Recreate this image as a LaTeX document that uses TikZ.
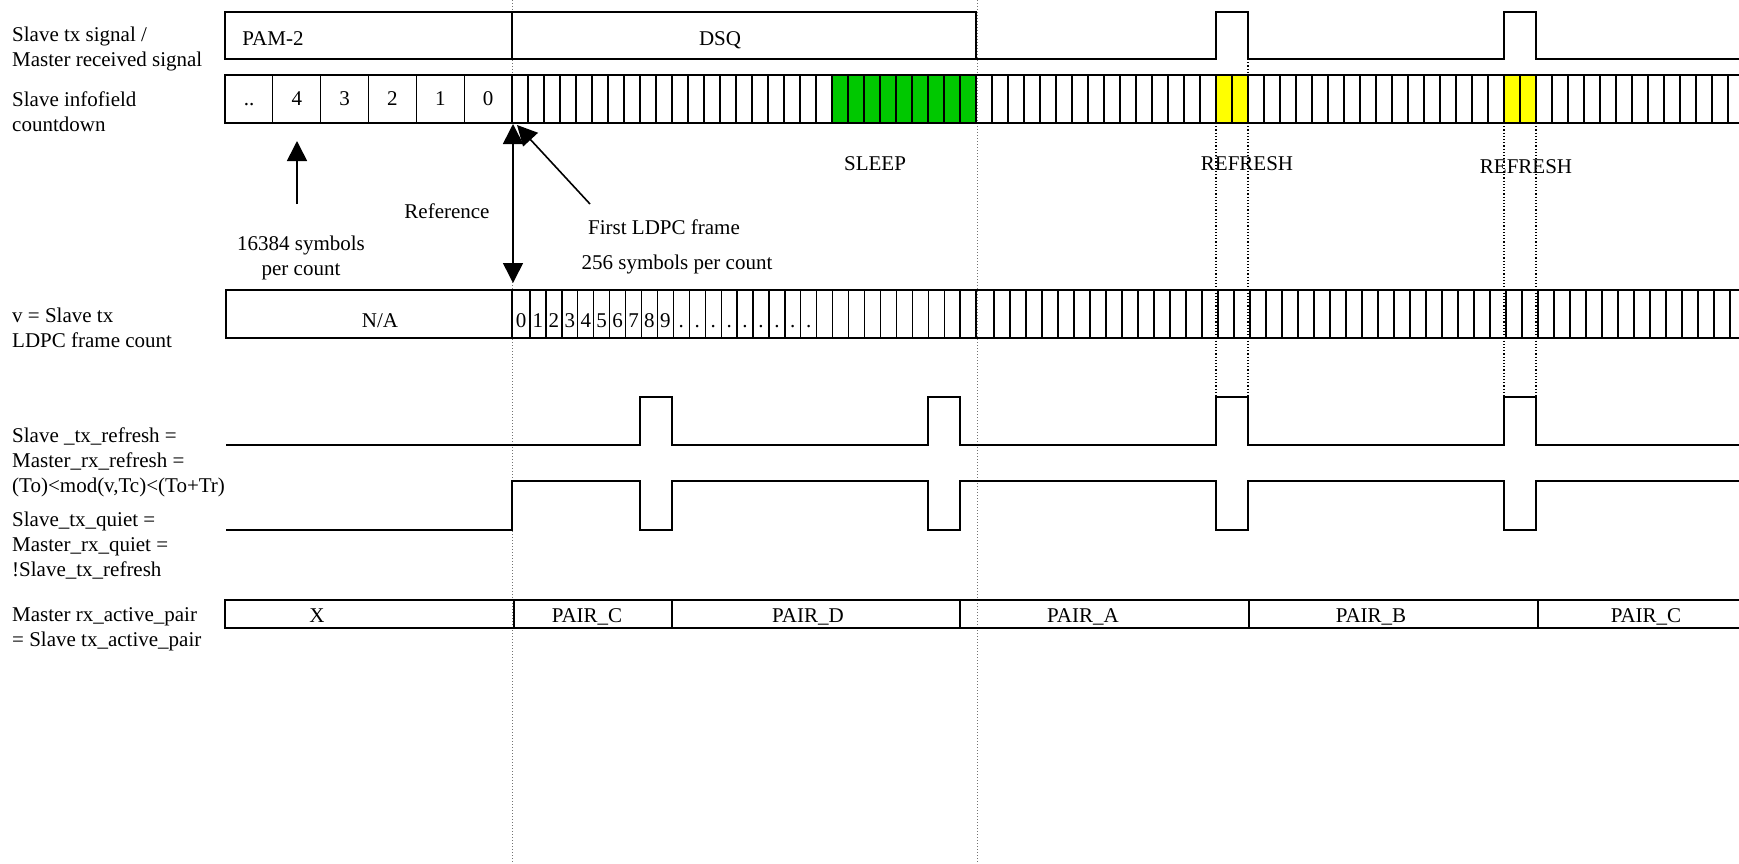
\documentclass[tikz,border=0pt]{standalone}
\usepackage{fontspec}
\setmainfont{Liberation Serif}
\usetikzlibrary{arrows.meta}

\definecolor{sleepgreen}{RGB}{0,200,0}
\definecolor{refreshyellow}{RGB}{255,255,0}

\begin{document}
\begin{tikzpicture}[x=1pt, y=-1pt,
    every node/.style={font=\fontsize{21}{25}\selectfont, inner sep=0pt},
    sidelbl/.style={align=left, anchor=west},
    txt/.style={anchor=base},
    frame/.style={line width=1.8pt},
    cell/.style={line width=1.3pt},
    wave/.style={line width=1.8pt},
    guide/.style={black!55, dotted, line width=1pt},
    tick/.style={black, dotted, line width=1.2pt},
    bigarrow/.style={line width=1.6pt, -{Triangle[length=20pt, width=20pt]}}]
  \useasboundingbox (0,0) rectangle (1739,864);
  \clip (0,0) rectangle (1739,864);
  % reference guides
  \draw[guide] (512,0) -- (512,864);
  \draw[guide] (977,0) -- (977,864);

  % row labels
  \node[sidelbl] (lsig) at (12,49) {Slave tx signal /\\Master received signal};
  \node[sidelbl] (lcnt) at (12,112) {Slave infofield\\countdown};
  \node[sidelbl] (lldpc) at (12,328) {v = Slave tx\\LDPC frame count};
  \node[sidelbl] (lref) at (12,462) {Slave \_tx\_refresh =\\Master\_rx\_refresh =\\(To)<mod(v,Tc)<(To+Tr)};
  \node[sidelbl] (lqui) at (12,546) {Slave\_tx\_quiet =\\Master\_rx\_quiet =\\!Slave\_tx\_refresh};
  \node[sidelbl] (lpair) at (12,629) {Master rx\_active\_pair\\= Slave tx\_active\_pair};

  % tx signal
  \draw[frame] (225,12) rectangle (512,59);
  \draw[frame] (512,12) rectangle (976,59);
  \draw[wave] (976,59) -- (1216,59) -- (1216,12) -- (1248,12) -- (1248,59)
    -- (1504,59) -- (1504,12) -- (1536,12) -- (1536,59) -- (1745,59);
  \node[txt] (pam) at (273,46) {PAM-2};
  \node[txt] (dsq) at (720,46) {DSQ};

  % infofield countdown
  \fill[sleepgreen] (832,75) rectangle (976,123);
  \fill[refreshyellow] (1216,75) rectangle (1248,123);
  \fill[refreshyellow] (1504,75) rectangle (1536,123);
  \foreach \i/\c in {0/{..},1/4,2/3,3/2,4/1,5/0} {
    \draw[cell] ({225+\i*47.83},75) -- ++(0,48);
    \node[txt] (cd\i) at ({249+\i*47.83},106) {\c};
  }
  \foreach \i in {0,...,76}
    \draw[cell] ({512+\i*16},75) -- ++(0,48);
  \draw[frame] (1745,75) -- (225,75) -- (225,123) -- (1745,123);

  % LDPC frame count
  \node[txt] (na) at (380,327) {N/A};
  \draw[cell] (512,290) -- ++(0,48);
  \node[txt] (fc0) at (521,327) {0};
  \foreach \i in {0,...,28}
    \draw[cell] ({530+\i*15.93},290) -- ++(0,48);
  \foreach \i in {0,...,47}
    \draw[cell] ({994+\i*16},290) -- ++(0,48);
  \foreach \k in {1,...,9}
    \node[txt] (fc\k) at ({530+(\k-0.5)*15.93},327) {\k};
  \foreach \k in {10,...,18}
    \node[txt] (fd\k) at ({530+(\k-0.5)*15.93},327) {.};
  \draw[frame] (1745,290) -- (226,290) -- (226,338) -- (1745,338);

  % refresh and quiet
  \draw[wave] (226,445) -- (640,445) -- (640,397) -- (672,397) -- (672,445)
    -- (928,445) -- (928,397) -- (960,397) -- (960,445)
    -- (1216,445) -- (1216,397) -- (1248,397) -- (1248,445)
    -- (1504,445) -- (1504,397) -- (1536,397) -- (1536,445) -- (1745,445);
  \draw[wave] (226,530) -- (512,530) -- (512,481) -- (640,481) -- (640,530)
    -- (672,530) -- (672,481) -- (928,481) -- (928,530) -- (960,530) -- (960,481)
    -- (1216,481) -- (1216,530) -- (1248,530) -- (1248,481)
    -- (1504,481) -- (1504,530) -- (1536,530) -- (1536,481) -- (1745,481);
  \draw[tick] (1248,59) -- (1248,75);
  \foreach \x in {1216,1248,1504,1536}
    \draw[tick] (\x,123) -- (\x,397);

  % active pair
  \draw[frame] (1745,600) -- (225,600) -- (225,628) -- (1745,628);
  \foreach \x in {514,672,960,1249,1538}
    \draw[frame] (\x,600) -- (\x,628);
  \node[txt] (px) at (317,622) {X};
  \node[txt] (pc1) at (587,622) {PAIR\_C};
  \node[txt] (pd) at (808,622) {PAIR\_D};
  \node[txt] (pa) at (1083,622) {PAIR\_A};
  \node[txt] (pb) at (1371,622) {PAIR\_B};
  \node[txt] (pc2) at (1646,622) {PAIR\_C};

  % notes and arrows
  \coordinate (symTail) at (297,204);
  \coordinate (symTip) at (297,141);
  \draw[bigarrow] (symTail) -- (symTip);
  \node[align=center] (sym) at (301,258) {16384 symbols\\per count};
  \coordinate (refTop) at (513,124);
  \coordinate (refBot) at (513,283);
  \draw[line width=1.6pt, {Triangle[length=20pt, width=20pt]}-{Triangle[length=20pt, width=20pt]}] (refTop) -- (refBot);
  \node[txt] (reflbl) at (447,218) {Reference};
  \coordinate (ldpcTail) at (590,204);
  \coordinate (ldpcTip) at (517,125);
  \draw[bigarrow] (ldpcTail) -- (ldpcTip);
  \node[txt] (first) at (664,234) {First LDPC frame};
  \node[txt] (perct) at (677,269) {256 symbols per count};
  \node[txt] (sleep) at (875,170) {SLEEP};
  \node[txt] (rfa) at (1247,170) {REFRESH};
  \node[txt] (rfb) at (1526,173) {REFRESH};
\end{tikzpicture}
\end{document}
